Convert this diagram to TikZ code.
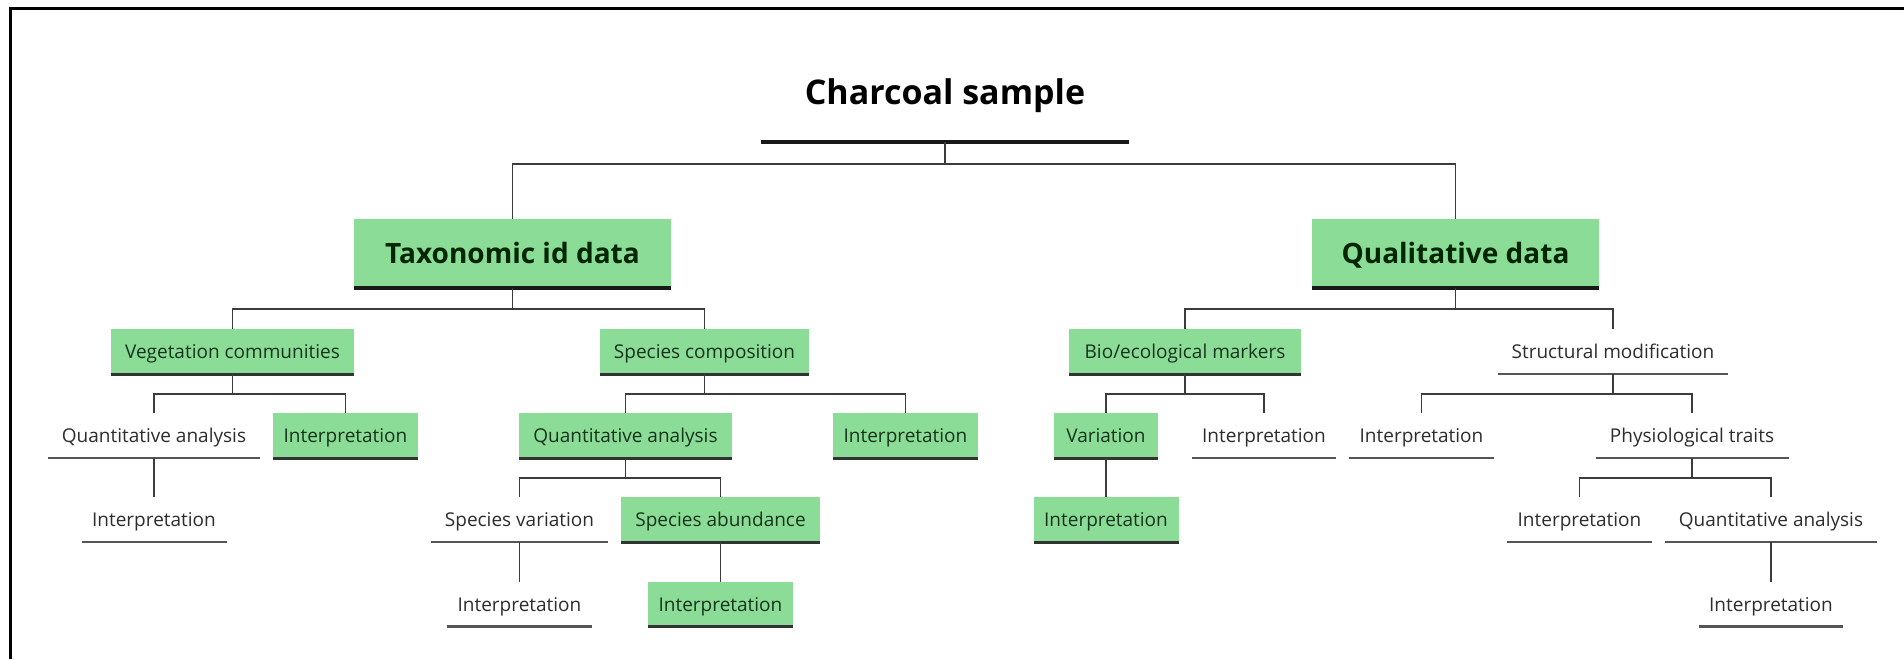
\documentclass[tikz,border=0pt]{standalone}
\usepackage{fontspec}
\setmainfont{Open Sans}
\definecolor{boxgreen}{RGB}{139,220,150}
\definecolor{greentext}{RGB}{22,52,28}
\definecolor{plaintext}{RGB}{45,45,45}
\definecolor{connc}{RGB}{60,60,60}
\definecolor{ulc}{RGB}{85,85,85}
\tikzset{
  base/.style={inner sep=0pt, outer sep=0pt, text height=14pt, text depth=0pt, minimum height=45pt, font=\fontsize{19}{22}\selectfont},
  gbox/.style={base, fill=boxgreen, text=greentext},
  pbox/.style={base, text=plaintext},
  topbox/.style={inner sep=0pt, outer sep=0pt, fill=boxgreen, text=black!85!green, minimum height=69pt, text height=20pt, text depth=0pt, font=\fontsize{28}{32}\selectfont\bfseries},
  rootbox/.style={inner sep=0pt, outer sep=0pt, minimum height=99pt, text height=24pt, text depth=0pt, font=\fontsize{34}{40}\selectfont\bfseries, text=black},
  gline/.style={draw=black!80, line width=3pt},
  uline/.style={draw=ulc, line width=2.5pt},
  topline/.style={draw=black!90, line width=4.5pt},
  conn/.style={draw=connc, line width=1.8pt},
}
\begin{document}
\begin{tikzpicture}[x=1pt,y=-1pt]
\useasboundingbox (0,0) rectangle (1904,659);
\fill[white] (0,0) rectangle (1904,659);
% frame
\draw[line width=3pt, black] (10,659) -- (10,8) -- (1904,8);

% nodes
\node[rootbox, minimum width=368pt] (root) at (945,92.5) {Charcoal sample};
\node[topbox, minimum width=317pt] (tax) at (512.5,253.5) {Taxonomic id data};
\node[topbox, minimum width=287pt] (qual) at (1455.5,253.5) {Qualitative data};

\node[gbox, minimum width=243pt] (veg) at (232.5,351.5) {Vegetation communities};
\node[gbox, minimum width=209pt] (spc) at (704.5,351.5) {Species composition};
\node[gbox, minimum width=232pt] (bio) at (1185,351.5) {Bio/ecological markers};
\node[pbox, minimum width=230pt] (sm) at (1613,351.5) {Structural modification};

\node[pbox, minimum width=212pt] (qa1) at (154,435.5) {Quantitative analysis};
\node[gbox, minimum width=145pt] (int1) at (345.5,435.5) {Interpretation};
\node[gbox, minimum width=213pt] (qa2) at (625.5,435.5) {Quantitative analysis};
\node[gbox, minimum width=145pt] (int3) at (905.5,435.5) {Interpretation};
\node[gbox, minimum width=104pt] (var) at (1106,435.5) {Variation};
\node[pbox, minimum width=144pt] (int6) at (1264,435.5) {Interpretation};
\node[pbox, minimum width=145pt] (int8) at (1421.5,435.5) {Interpretation};
\node[pbox, minimum width=193pt] (pt) at (1692,435.5) {Physiological traits};

\node[pbox, minimum width=145pt] (int2) at (154,519.5) {Interpretation};
\node[pbox, minimum width=177pt] (sv) at (519.5,519.5) {Species variation};
\node[gbox, minimum width=199pt] (sa) at (720.5,519.5) {Species abundance};
\node[gbox, minimum width=145pt] (int7) at (1106,519.5) {Interpretation};
\node[pbox, minimum width=145pt] (int9) at (1579.5,519.5) {Interpretation};
\node[pbox, minimum width=212pt] (qa3) at (1771,519.5) {Quantitative analysis};

\node[pbox, minimum width=145pt] (int4) at (519.5,604) {Interpretation};
\node[gbox, minimum width=145pt] (int5) at (720.5,604) {Interpretation};
\node[pbox, minimum width=144pt] (int10) at (1771,604) {Interpretation};

% bottom lines
\draw[topline] (root.south west) -- (root.south east);
\foreach \n in {tax,qual} \draw[topline] (\n.south west) -- (\n.south east);
\foreach \n in {veg,spc,bio,int1,qa2,int3,var,sa,int7,int5} \draw[gline] (\n.south west) -- (\n.south east);
\foreach \n in {sm,qa1,int6,int8,pt,int2,sv,int9,qa3,int4,int10} \draw[uline] (\n.south west) -- (\n.south east);

% connectors
\foreach \c in {tax,qual} \draw[conn] (root.south) -- ++(0,22) -| (\c.north);
\foreach \c in {veg,spc} \draw[conn] (tax.south) -- ++(0,21) -| (\c.north);
\foreach \c in {bio,sm} \draw[conn] (qual.south) -- ++(0,21) -| (\c.north);
\foreach \c in {qa1,int1} \draw[conn] (veg.south) -- ++(0,20) -| (\c.north);
\foreach \c in {qa2,int3} \draw[conn] (spc.south) -- ++(0,20) -| (\c.north);
\foreach \c in {var,int6} \draw[conn] (bio.south) -- ++(0,20) -| (\c.north);
\foreach \c in {int8,pt} \draw[conn] (sm.south) -- ++(0,20) -| (\c.north);
\draw[conn] (qa1.south) -- (int2.north);
\foreach \c in {sv,sa} \draw[conn] (qa2.south) -- ++(0,20) -| (\c.north);
\draw[conn] (var.south) -- (int7.north);
\foreach \c in {int9,qa3} \draw[conn] (pt.south) -- ++(0,20) -| (\c.north);
\draw[conn] (sv.south) -- (int4.north);
\draw[conn] (sa.south) -- (int5.north);
\draw[conn] (qa3.south) -- (int10.north);
\end{tikzpicture}
\end{document}
